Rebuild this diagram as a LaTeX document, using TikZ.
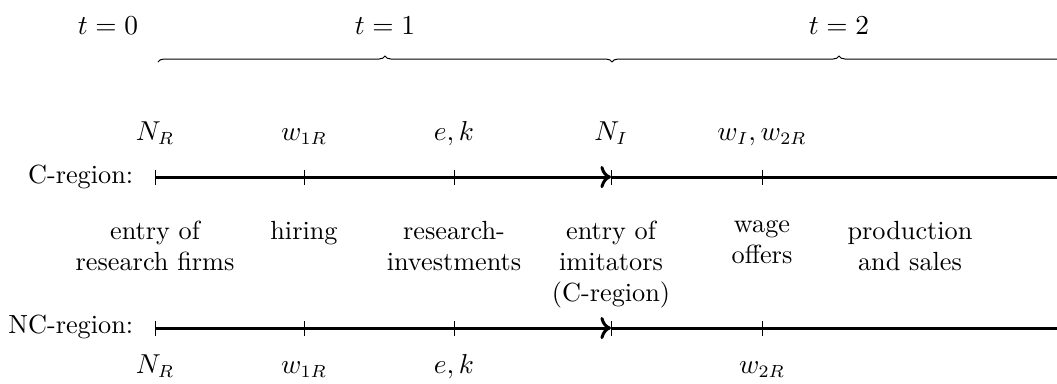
\documentclass[tikz,border=0pt]{standalone}
\usetikzlibrary{decorations.pathreplacing, arrows.meta}

\tikzset{
  timeline/.style={line width=1.2pt},
  tickmark/.style={line width=0.4pt},
  period/.style={decorate, decoration={brace, amplitude=2.4pt}, line width=0.4pt},
  event/.style={anchor=north, align=center},
  value/.style={anchor=base}
}

\begin{document}
\begin{tikzpicture}[x=0.4pt, y=-0.4pt, font=\fontsize{10.5}{12.5}\selectfont]
       \useasboundingbox (0,0) rectangle (1057,383);

       % periods
       \node[value] (t0) at (108,34) {$t=0$};
       \node[value] (t1) at (385,34) {$t=1$};
       \node[value] (t2) at (839,34) {$t=2$};
       \coordinate (b0) at (158,62);
       \coordinate (b1) at (612,62);
       \coordinate (b2) at (1066,62);
       \draw[period] (b0) -- (b1);
       \draw[period] (b1) -- (b2);

       % the two time lines
       \foreach \i/\x in {1/155, 2/304, 3/454, 4/611, 5/762, 6/1058} {
         \coordinate (c\i) at (\x,177);
         \coordinate (n\i) at (\x,328);
         \draw[tickmark] ([yshift=-3pt]c\i) -- ([yshift=3pt]c\i);
         \draw[tickmark] ([yshift=-3pt]n\i) -- ([yshift=3pt]n\i);
       }
       \draw[timeline,->] (c1) -- (c4);
       \draw[timeline] (c4) -- (c6);
       \draw[timeline,->] (n1) -- (n4);
       \draw[timeline] (n4) -- (n6);

       \node[anchor=base east] (creg) at (142,183) {C-region:};
       \node[anchor=base east] (nreg) at (142,333) {NC-region:};

       % C-region values
       \node[value] (cNR) at (155,140) {$N_R$};
       \node[value] (cw1) at (304,140) {$w_{1R}$};
       \node[value] (cek) at (454,140) {$e,k$};
       \node[value] (cNI) at (611,140) {$N_I$};
       \node[value] (cw2) at (762,140) {$w_I,w_{2R}$};

       % events
       \node[event] (entry) at (155,212) {entry of\\research firms};
       \node[event] (hire) at (304,212) {hiring};
       \node[event] (invest) at (454,212) {research-\\investments};
       \node[event] (imit) at (611,212) {entry of\\imitators\\(C-region)};
       \node[event] (wage) at (762,212) {wage\\offers};
       \node[event] (prod) at (910,212) {production\\and sales};

       % NC-region values
       \node[value] (nNR) at (155,373) {$N_R$};
       \node[value] (nw1) at (304,373) {$w_{1R}$};
       \node[value] (nek) at (454,373) {$e,k$};
       \node[value] (nw2) at (762,373) {$w_{2R}$};
\end{tikzpicture}
\end{document}
